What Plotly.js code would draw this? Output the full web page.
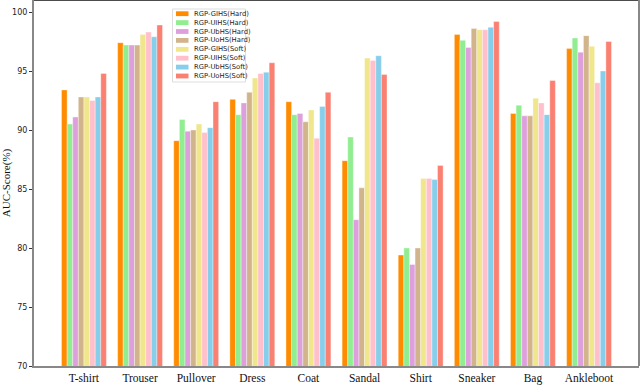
<!DOCTYPE html>
<html>
<head>
<meta charset="utf-8">
<script src="https://cdn.plot.ly/plotly-3.0.1.min.js"></script>
<style>
  body { margin: 0; }
  #aucPlot { width: 640px; height: 385px; }
</style>
</head>
<body>
<div id="aucPlot"></div>
<script>
// categories on the x axis
const classes = ["T-shirt", "Trouser", "Pullover", "Dress", "Coat", "Sandal", "Shirt", "Sneaker", "Bag", "Ankleboot"];

// AUC scores for every method
const gihsHard = [93.4, 97.4, 89.1, 92.6, 92.4, 87.4, 79.4, 98.1, 91.4, 96.9];
const uihsHard = [90.5, 97.2, 90.9, 91.3, 91.3, 89.4, 80.0, 97.6, 92.1, 97.8];
const ubhsHard = [91.1, 97.2, 89.9, 92.3, 91.4, 82.4, 78.6, 97.0, 91.2, 96.6];
const uohsHard = [92.8, 97.2, 90.0, 93.2, 90.7, 85.1, 80.0, 98.6, 91.2, 98.0];
const gihsSoft = [92.8, 98.1, 90.5, 94.4, 91.7, 96.1, 85.9, 98.5, 92.7, 97.1];
const uihsSoft = [92.5, 98.3, 89.8, 94.8, 89.3, 95.9, 85.9, 98.5, 92.3, 94.0];
const ubhsSoft = [92.8, 97.9, 90.2, 94.9, 92.0, 96.3, 85.8, 98.7, 91.3, 95.0];
const uohsSoft = [94.8, 98.9, 92.4, 95.7, 93.2, 94.7, 87.0, 99.2, 94.2, 97.5];

const names = ["RGP-GIHS(Hard)", "RGP-UIHS(Hard)", "RGP-UbHS(Hard)", "RGP-UoHS(Hard)",
               "RGP-GIHS(Soft)", "RGP-UIHS(Soft)", "RGP-UbHS(Soft)", "RGP-UoHS(Soft)"];
const series = [gihsHard, uihsHard, ubhsHard, uohsHard, gihsSoft, uihsSoft, ubhsSoft, uohsSoft];
const colors = ["#ff8c00", "#90ee90", "#dda0dd", "#d2b48c", "#f0e68c", "#ffc0cb", "#87ceeb", "#fa8072"];

const traces = series.map(function (vals, i) {
  return {
    x: classes,
    y: vals,
    name: names[i],
    type: "bar",
    marker: {color: colors[i], line: {color: "rgba(255,255,255,0.6)", width: 0.6}}
  };
});

// plot area in pixels, used to place the hand made (compact) legend
const marginL = 34, marginR = 1, marginT = 0, marginB = 19;
const plotW = 640 - marginL - marginR;
const plotH = 385 - marginT - marginB;
function px(xp) { return (xp - marginL) / plotW; }
function py(yp) { return 1 - (yp - marginT) / plotH; }

const shapes = [
  {type: "line", xref: "paper", yref: "paper", x0: 0, x1: 1, y0: 1, y1: 1, line: {color: "#111", width: 1.5}},
  {type: "line", xref: "paper", yref: "paper", x0: 1, x1: 1, y0: 0, y1: 1, line: {color: "#888", width: 2}},
  {type: "rect", xref: "paper", yref: "paper", x0: px(172.5), x1: px(245.5), y0: py(82), y1: py(9),
   fillcolor: "white", line: {color: "#dddddd", width: 1}, layer: "above"}
];
const annotations = [];
names.forEach(function (name, i) {
  const cy = 13.7 + 8.9 * i;
  shapes.push({type: "rect", xref: "paper", yref: "paper", x0: px(176), x1: px(188.5),
    y0: py(cy + 2.4), y1: py(cy - 2.4), fillcolor: colors[i], line: {width: 0}, layer: "above"});
  annotations.push({xref: "paper", yref: "paper", x: px(191.5), y: py(cy), xanchor: "left", yanchor: "middle",
    text: name, showarrow: false, font: {family: "DejaVu Sans", size: 6.8, color: "#222"}});
});

const layout = {
  width: 640,
  height: 385,
  margin: {l: marginL, r: marginR, t: marginT, b: marginB},
  barmode: "group",
  bargap: 0.2,
  bargroupgap: 0,
  plot_bgcolor: "white",
  paper_bgcolor: "white",
  showlegend: false,
  xaxis: {
    range: [-0.89, 9.89],
    showgrid: false,
    ticks: "",
    tickfont: {family: "Liberation Serif", size: 11.5, color: "#111"},
    showline: true, linecolor: "#888", linewidth: 2,
    zeroline: false
  },
  yaxis: {
    title: {text: "AUC-Score(%)", font: {family: "Liberation Serif", size: 11, color: "#111"}, standoff: 6},
    range: [70, 101.02],
    dtick: 5,
    showgrid: false,
    ticks: "outside", ticklen: 3, tickcolor: "#333",
    tickfont: {family: "DejaVu Sans", size: 8, color: "#222"},
    showline: true, linecolor: "#888", linewidth: 2,
    zeroline: false
  },
  shapes: shapes,
  annotations: annotations
};

Plotly.newPlot("aucPlot", traces, layout, {displayModeBar: false});
</script>
</body>
</html>
